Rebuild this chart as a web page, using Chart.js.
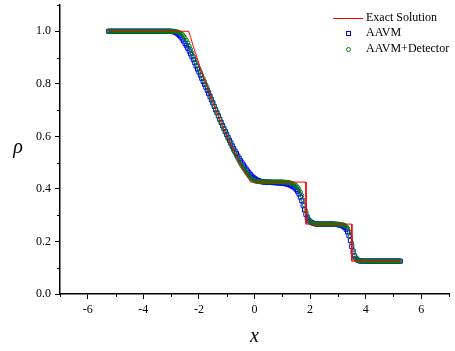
<!DOCTYPE html>
<html>
<head>
<meta charset="utf-8">
<script src="https://cdn.jsdelivr.net/npm/chart.js@4/dist/chart.umd.min.js"></script>
<style>
  html, body { margin: 0; padding: 0; background: #fff; }
  #wrap { width: 455px; height: 351px; }
</style>
</head>
<body>
<div id="wrap"><canvas id="rhoChart"></canvas></div>
<script>
// x grid of the numerical solutions
const xs = [
  -5.25,-5.2,-5.15,-5.1,-5.05,-5,-4.95,-4.9,-4.85,-4.8,
  -4.75,-4.7,-4.65,-4.6,-4.55,-4.5,-4.45,-4.4,-4.35,-4.3,
  -4.25,-4.2,-4.15,-4.1,-4.05,-4,-3.95,-3.9,-3.85,-3.8,
  -3.75,-3.7,-3.65,-3.6,-3.55,-3.5,-3.45,-3.4,-3.35,-3.3,
  -3.25,-3.2,-3.15,-3.1,-3.05,-3,-2.95,-2.9,-2.85,-2.8,
  -2.75,-2.7,-2.65,-2.6,-2.55,-2.5,-2.45,-2.4,-2.35,-2.3,
  -2.25,-2.2,-2.15,-2.1,-2.05,-2,-1.95,-1.9,-1.85,-1.8,
  -1.75,-1.7,-1.65,-1.6,-1.55,-1.5,-1.45,-1.4,-1.35,-1.3,
  -1.25,-1.2,-1.15,-1.1,-1.05,-1,-0.95,-0.9,-0.85,-0.8,
  -0.75,-0.7,-0.65,-0.6,-0.55,-0.5,-0.45,-0.4,-0.35,-0.3,
  -0.25,-0.2,-0.15,-0.1,-0.05,0,0.05,0.1,0.15,0.2,
  0.25,0.3,0.35,0.4,0.45,0.5,0.55,0.6,0.65,0.7,
  0.75,0.8,0.85,0.9,0.95,1,1.05,1.1,1.15,1.2,
  1.25,1.3,1.35,1.4,1.45,1.5,1.55,1.6,1.65,1.7,
  1.75,1.8,1.85,1.9,1.95,2,2.05,2.1,2.15,2.2,
  2.25,2.3,2.35,2.4,2.45,2.5,2.55,2.6,2.65,2.7,
  2.75,2.8,2.85,2.9,2.95,3,3.05,3.1,3.15,3.2,
  3.25,3.3,3.35,3.4,3.45,3.5,3.55,3.6,3.65,3.7,
  3.75,3.8,3.85,3.9,3.95,4,4.05,4.1,4.15,4.2,
  4.25,4.3,4.35,4.4,4.45,4.5,4.55,4.6,4.65,4.7,
  4.75,4.8,4.85,4.9,4.95,5,5.05,5.1,5.15,5.2,
  5.25
]

// AAVM (blue squares)
const aavm = [
  1,1,1,1,1,1,1,1,1,1,
  1,1,1,1,1,1,1,1,1,1,
  1,1,1,1,1,1,1,1,1,1,
  1,1,1,1,1,1,1,1,1,1,
  1,1,1,1,1,1,0.999,0.998,0.996,0.993,
  0.989,0.984,0.978,0.971,0.963,0.954,0.945,0.935,0.925,0.914,
  0.903,0.892,0.880,0.868,0.856,0.845,0.833,0.821,0.809,0.798,
  0.787,0.775,0.763,0.751,0.739,0.727,0.714,0.701,0.690,0.678,
  0.665,0.653,0.641,0.630,0.618,0.607,0.596,0.585,0.575,0.564,
  0.554,0.544,0.535,0.525,0.516,0.507,0.499,0.491,0.483,0.475,
  0.468,0.461,0.455,0.449,0.444,0.440,0.436,0.433,0.431,0.429,
  0.428,0.427,0.426,0.426,0.426,0.425,0.425,0.425,0.424,0.424,
  0.424,0.423,0.423,0.423,0.422,0.422,0.421,0.420,0.419,0.418,
  0.416,0.414,0.411,0.408,0.404,0.398,0.391,0.381,0.369,0.355,
  0.338,0.320,0.303,0.290,0.281,0.276,0.272,0.270,0.268,0.267,
  0.266,0.266,0.266,0.266,0.266,0.266,0.266,0.266,0.266,0.266,
  0.266,0.266,0.266,0.265,0.265,0.264,0.263,0.262,0.260,0.257,
  0.253,0.246,0.236,0.222,0.203,0.181,0.160,0.145,0.136,0.130,
  0.127,0.126,0.125,0.125,0.125,0.125,0.125,0.125,0.125,0.125,
  0.125,0.125,0.125,0.125,0.125,0.125,0.125,0.125,0.125,0.125,
  0.125,0.125,0.125,0.125,0.125,0.125,0.125,0.125,0.125,0.125,
  0.125
]

// AAVM+Detector (green circles)
const aavmDet = [
  1,1,1,1,1,1,1,1,1,1,
  1,1,1,1,1,1,1,1,1,1,
  1,1,1,1,1,1,1,1,1,1,
  1,1,1,1,1,1,1,1,1,1,
  1,1,1,1,1,1,1,1,0.999,0.998,
  0.997,0.995,0.992,0.988,0.982,0.975,0.966,0.956,0.944,0.931,
  0.918,0.905,0.893,0.881,0.869,0.857,0.845,0.833,0.821,0.809,
  0.797,0.784,0.771,0.757,0.744,0.730,0.716,0.703,0.690,0.677,
  0.664,0.651,0.639,0.627,0.615,0.603,0.591,0.580,0.569,0.557,
  0.546,0.536,0.525,0.515,0.505,0.496,0.487,0.479,0.471,0.463,
  0.456,0.449,0.443,0.438,0.434,0.431,0.429,0.428,0.428,0.427,
  0.427,0.427,0.427,0.427,0.427,0.427,0.427,0.427,0.427,0.427,
  0.427,0.427,0.427,0.427,0.427,0.427,0.426,0.426,0.425,0.425,
  0.424,0.423,0.421,0.419,0.416,0.412,0.406,0.398,0.388,0.375,
  0.358,0.338,0.316,0.297,0.284,0.276,0.271,0.269,0.268,0.267,
  0.266,0.266,0.266,0.266,0.266,0.266,0.266,0.266,0.266,0.266,
  0.266,0.266,0.266,0.266,0.266,0.266,0.265,0.265,0.264,0.263,
  0.261,0.257,0.250,0.238,0.219,0.194,0.168,0.148,0.136,0.130,
  0.127,0.126,0.125,0.125,0.125,0.125,0.125,0.125,0.125,0.125,
  0.125,0.125,0.125,0.125,0.125,0.125,0.125,0.125,0.125,0.125,
  0.125,0.125,0.125,0.125,0.125,0.125,0.125,0.125,0.125,0.125,
  0.125
]

// exact solution (corners of the piecewise profile + points along the rarefaction)
const exactX = [-5.25,-2.366,-2.3,-2.2,-2.1,-2.0,-1.8,-1.6,-1.4,-1.2,-1.0,-0.8,-0.6,-0.4,-0.2,-0.14,1.855,1.855,3.504,3.504,5.25]
const exactY = [1,1,0.977,0.942,0.9095,0.877,0.816,0.758,0.703,0.651,0.603,0.557,0.515,0.4745,0.437,0.426,0.426,0.266,0.266,0.125,0.125]

const xMinorTicks = [-7,-5,-3,-1,1,3,5,7]
const yMinorTicks = [0.1,0.3,0.5,0.7,0.9,1.1]

const serif = '"Liberation Serif", "Times New Roman", serif'

function pts(xv, yv) {
    return xv.map((x, i) => ({ x: x, y: yv[i] }))
}

// minor ticks, axis titles and the legend box
const extras = {
    id: 'extras',
    afterDraw(chart) {
        const ctx = chart.ctx
        const sx = chart.scales.x
        const sy = chart.scales.y
        const area = chart.chartArea
        ctx.save()
        ctx.strokeStyle = '#000'
        ctx.lineWidth = 1
        ctx.beginPath()
        xMinorTicks.forEach(v => {
            const px = Math.round(sx.getPixelForValue(v)) + 0.5
            ctx.moveTo(px, area.bottom)
            ctx.lineTo(px, area.bottom + 3)
        })
        yMinorTicks.forEach(v => {
            const py = Math.round(sy.getPixelForValue(v)) + 0.5
            ctx.moveTo(area.left, py)
            ctx.lineTo(area.left - 3, py)
        })
        ctx.stroke()

        // axis titles
        ctx.fillStyle = '#000'
        ctx.textAlign = 'center'
        ctx.textBaseline = 'middle'
        ctx.font = 'italic 20px ' + serif
        ctx.fillText('x', (area.left + area.right) / 2, 337)
        ctx.fillText('\u03C1', 18, 148)

        // legend
        ctx.font = '12px ' + serif
        ctx.textAlign = 'left'
        ctx.strokeStyle = '#ff0000'
        ctx.beginPath()
        ctx.moveTo(333, 18.5)
        ctx.lineTo(363, 18.5)
        ctx.stroke()
        ctx.fillText('Exact Solution', 366, 18)

        ctx.strokeStyle = '#0000ff'
        ctx.strokeRect(346.5, 31.5, 4, 4)
        ctx.fillText('AAVM', 366, 33)

        ctx.strokeStyle = '#008000'
        ctx.beginPath()
        ctx.arc(348.5, 49.5, 2, 0, Math.PI * 2)
        ctx.stroke()
        ctx.fillText('AAVM+Detector', 366, 49)
        ctx.restore()
    }
}

const ctx = document.getElementById('rhoChart')
const chart = new Chart(ctx, {
    type: 'scatter',
    data: {
        datasets: [
            {
                label: 'Exact Solution',
                data: pts(exactX, exactY),
                showLine: true,
                borderColor: '#ff0000',
                borderWidth: 1,
                pointRadius: 0,
                tension: 0,
                order: 1
            },
            {
                label: 'AAVM',
                data: pts(xs, aavm),
                pointStyle: 'rect',
                pointRadius: 2.9,
                pointBorderColor: '#0000ff',
                pointBackgroundColor: 'rgba(0,0,0,0)',
                pointBorderWidth: 1,
                order: 3
            },
            {
                label: 'AAVM+Detector',
                data: pts(xs, aavmDet),
                pointStyle: 'circle',
                pointRadius: 2,
                pointBorderColor: '#008000',
                pointBackgroundColor: 'rgba(0,0,0,0)',
                pointBorderWidth: 1,
                order: 2
            }
        ]
    },
    options: {
        responsive: true,
        maintainAspectRatio: false,
        animation: false,
        layout: { padding: { top: 5, right: 6, left: 0, bottom: 0 } },
        plugins: {
            legend: { display: false },
            tooltip: { enabled: false }
        },
        scales: {
            x: {
                type: 'linear',
                min: -7,
                max: 7,
                afterFit: s => { s.height = 57; s.paddingLeft = 0; s.paddingRight = 0 },
                afterBuildTicks: s => { s.ticks = s.ticks.filter(t => Math.abs(Math.round(t.value) % 2) === 0) },
                border: { display: true, color: '#000', width: 1.5 },
                grid: { drawOnChartArea: false, drawTicks: true, tickLength: 5, tickColor: '#000', tickWidth: 1 },
                ticks: {
                    stepSize: 1,
                    padding: 4,
                    color: '#000',
                    font: { family: serif, size: 12 },
                    callback: v => String(v)
                }
            },
            y: {
                type: 'linear',
                min: 0,
                max: 1.1,
                afterFit: s => { s.width = 60; s.paddingTop = 0; s.paddingBottom = 0 },
                afterBuildTicks: s => { s.ticks = s.ticks.filter(t => t.value <= 1.0001) },
                border: { display: true, color: '#000', width: 1.5 },
                grid: { drawOnChartArea: false, drawTicks: true, tickLength: 5, tickColor: '#000', tickWidth: 1 },
                ticks: {
                    stepSize: 0.2,
                    padding: 4,
                    color: '#000',
                    font: { family: serif, size: 12 },
                    callback: v => v.toFixed(1)
                }
            }
        }
    },
    plugins: [extras]
})
</script>
</body>
</html>
